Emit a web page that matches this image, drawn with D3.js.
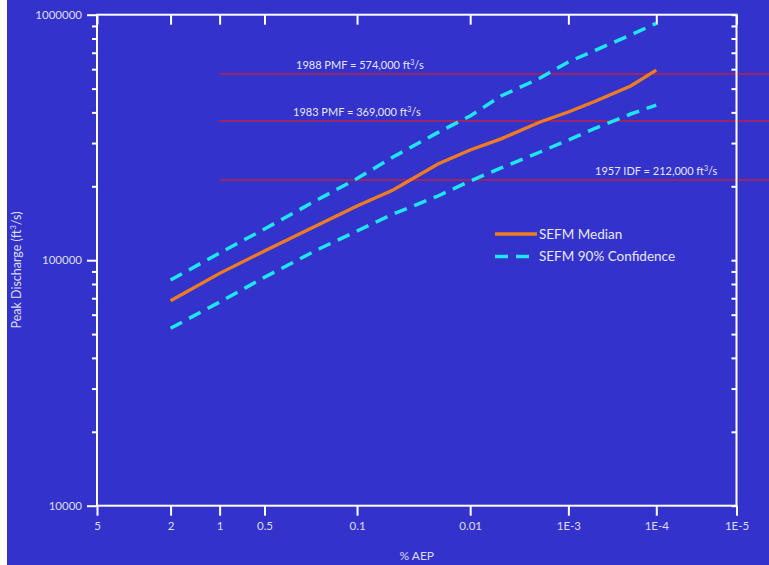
<!DOCTYPE html>
<html>
<head>
<meta charset="utf-8">
<script src="https://cdn.jsdelivr.net/npm/d3@7"></script>
<style>
html,body{margin:0;padding:0;background:#ffffff;}
svg{display:block;}
text{font-family:Lato,"Open Sans",sans-serif;}
</style>
</head>
<body>
<script>
// ---- data ----
const aep = [2, 1, 0.5, 0.2, 0.1, 0.05, 0.02, 0.01, 0.005, 0.002, 0.001, 0.0005, 0.0002, 0.0001]; // % AEP
const median = [68400, 88400, 109000, 139800, 166300, 193200, 246500, 281000, 312000, 365600, 401600, 445000, 512400, 595000];
const upper90 = [83000, 107000, 134000, 177600, 215000, 263300, 331600, 386800, 466600, 552000, 642000, 718000, 826600, 922600];
const lower90 = [52800, 67500, 85200, 111100, 131500, 154200, 182600, 210200, 237500, 275900, 308800, 345500, 394000, 428500];
const xTicks = [5, 2, 1, 0.5, 0.1, 0.01, 0.001, 0.0001, 0.00001];
const xTickLabels = ["5", "2", "1", "0.5", "0.1", "0.01", "1E-3", "1E-4", "1E-5"];
const yMajor = [10000, 100000, 1000000];
const yMinor = [20000, 30000, 40000, 50000, 60000, 70000, 80000, 90000,
                200000, 300000, 400000, 500000, 600000, 700000, 800000, 900000];
const refValues = [574000, 369000, 212000];
const refLabels = ["1988 PMF = 574,000 ft", "1983 PMF = 369,000 ft", "1957 IDF = 212,000 ft"];
const legendLabels = ["SEFM Median", "SEFM 90% Confidence"];

// ---- inverse normal (Acklam) ----
function invNorm(p) {
  const a = [-3.969683028665376e+01, 2.209460984245205e+02, -2.759285104469687e+02, 1.383577518672690e+02, -3.066479806614716e+01, 2.506628277459239e+00];
  const b = [-5.447609879822406e+01, 1.615858368580409e+02, -1.556989798598866e+02, 6.680131188771972e+01, -1.328068155288572e+01];
  const c = [-7.784894002430293e-03, -3.223964580411365e-01, -2.400758277161838e+00, -2.549671084476143e+00, 4.374664141464968e+00, 2.938163982698783e+00];
  const d = [7.784695709041462e-03, 3.224671290700398e-01, 2.445134137142996e+00, 3.754408661907416e+00];
  const pl = 0.02425, ph = 1 - pl;
  let q, r;
  if (p < pl) {
    q = Math.sqrt(-2 * Math.log(p));
    return (((((c[0]*q+c[1])*q+c[2])*q+c[3])*q+c[4])*q+c[5]) / ((((d[0]*q+d[1])*q+d[2])*q+d[3])*q+1);
  } else if (p <= ph) {
    q = p - 0.5; r = q * q;
    return (((((a[0]*r+a[1])*r+a[2])*r+a[3])*r+a[4])*r+a[5])*q / (((((b[0]*r+b[1])*r+b[2])*r+b[3])*r+b[4])*r+1);
  } else {
    q = Math.sqrt(-2 * Math.log(1 - p));
    return -(((((c[0]*q+c[1])*q+c[2])*q+c[3])*q+c[4])*q+c[5]) / ((((d[0]*q+d[1])*q+d[2])*q+d[3])*q+1);
  }
}
const zOf = pct => -invNorm(pct / 100);

// ---- layout ----
const W = 769, H = 565;
const L = 97, R = 736.5, T = 14.7, B = 505.7;
const bg = "#3333cc", axisCol = "#ffffff", textCol = "#dcdcec";
const orange = "#f07c22", cyan = "#1ee6f4", red = "#b8224c";

const x = d3.scaleLinear().domain([zOf(5), zOf(0.00001)]).range([L, R]);
const y = d3.scaleLog().domain([10000, 1000000]).range([B, T]);

const svg = d3.select("body").append("svg").attr("width", W).attr("height", H);
svg.append("rect").attr("x", 7).attr("y", 0).attr("width", W - 7).attr("height", H).attr("fill", bg);

// reference lines
const refG = svg.append("g");
refValues.forEach(v => {
  refG.append("line").attr("x1", x(zOf(1))).attr("x2", W)
    .attr("y1", y(v)).attr("y2", y(v))
    .attr("stroke", red).attr("stroke-width", 1.5);
});
const refLabelX = [296, 293, 595];
refValues.forEach((v, i) => {
  const t = refG.append("text").attr("x", refLabelX[i]).attr("y", y(v) - 5)
    .attr("fill", "#e6e6f2").attr("font-size", 11);
  t.append("tspan").text(refLabels[i]);
  t.append("tspan").attr("font-size", 7).attr("dy", -4).text("3");
  t.append("tspan").attr("dy", 4).text("/s");
});

// axes frame
const frame = svg.append("g").attr("stroke", axisCol).attr("stroke-width", 2);
frame.append("rect").attr("x", L).attr("y", T).attr("width", R - L).attr("height", B - T).attr("fill", "none");

// left axis
const leftAxis = d3.axisLeft(y).tickValues(yMajor).tickSize(10).tickPadding(5).tickFormat(d3.format("d"));
const gl = svg.append("g").attr("transform", `translate(${L},0)`).call(leftAxis);
gl.select(".domain").remove();
gl.selectAll("line").attr("stroke", axisCol).attr("stroke-width", 2);
gl.selectAll("text").attr("fill", textCol).attr("font-size", 11.5).attr("font-family", "Lato,sans-serif");
const glm = svg.append("g").attr("transform", `translate(${L},0)`).call(d3.axisLeft(y).tickValues(yMinor).tickSize(5).tickFormat(""));
glm.select(".domain").remove();
glm.selectAll("line").attr("stroke", axisCol).attr("stroke-width", 2);

// right axis (inward)
const grm = svg.append("g").attr("transform", `translate(${R},0)`).call(d3.axisLeft(y).tickValues(yMinor.concat(yMajor)).tickSize(5).tickFormat(""));
grm.select(".domain").remove();
grm.selectAll("line").attr("stroke", axisCol).attr("stroke-width", 2);

// bottom axis
const bottomAxis = d3.axisBottom(x).tickValues(xTicks.map(zOf)).tickSize(10).tickPadding(6)
  .tickFormat((d, i) => xTickLabels[i]);
const gb = svg.append("g").attr("transform", `translate(0,${B})`).call(bottomAxis);
gb.select(".domain").remove();
gb.selectAll("line").attr("stroke", axisCol).attr("stroke-width", 2);
gb.selectAll("text").attr("fill", textCol).attr("font-size", 11.5).attr("font-family", "Lato,sans-serif");

// top axis (inward)
const gt = svg.append("g").attr("transform", `translate(0,${T})`).call(d3.axisBottom(x).tickValues(xTicks.map(zOf)).tickSize(10).tickFormat(""));
gt.select(".domain").remove();
gt.selectAll("line").attr("stroke", axisCol).attr("stroke-width", 2);

// axis titles
svg.append("text").attr("x", (L + R) / 2).attr("y", 560).attr("text-anchor", "middle")
  .attr("fill", textCol).attr("font-size", 12).text("% AEP");
const yl = svg.append("text").attr("transform", `translate(21,270) rotate(-90)`).attr("text-anchor", "middle")
  .attr("fill", textCol).attr("font-size", 12.5);
yl.append("tspan").text("Peak Discharge (ft");
yl.append("tspan").attr("font-size", 8).attr("dy", -5).text("3");
yl.append("tspan").attr("dy", 5).text("/s)");

// series
const line = d3.line().x((d, i) => x(zOf(aep[i]))).y(d => y(d));
svg.append("path").datum(upper90).attr("d", line).attr("fill", "none")
  .attr("stroke", cyan).attr("stroke-width", 3.5).attr("stroke-dasharray", "13,8");
svg.append("path").datum(lower90).attr("d", line).attr("fill", "none")
  .attr("stroke", cyan).attr("stroke-width", 3.5).attr("stroke-dasharray", "13,8");
svg.append("path").datum(median).attr("d", line).attr("fill", "none")
  .attr("stroke", orange).attr("stroke-width", 3.3);

// legend
const lg = svg.append("g").attr("transform", "translate(495,234)");
lg.append("line").attr("x1", 0).attr("x2", 42).attr("y1", 0).attr("y2", 0)
  .attr("stroke", orange).attr("stroke-width", 3.5);
lg.append("line").attr("x1", 0).attr("x2", 42).attr("y1", 22.5).attr("y2", 22.5)
  .attr("stroke", cyan).attr("stroke-width", 3.5).attr("stroke-dasharray", "13,8");
lg.selectAll("text.lt").data(legendLabels).enter().append("text").attr("class", "lt")
  .attr("x", 44).attr("y", (d, i) => i * 22.5).attr("dy", "0.35em")
  .attr("fill", "#e6e6f2").attr("font-size", 13.5).text(d => d);
</script>
</body>
</html>
